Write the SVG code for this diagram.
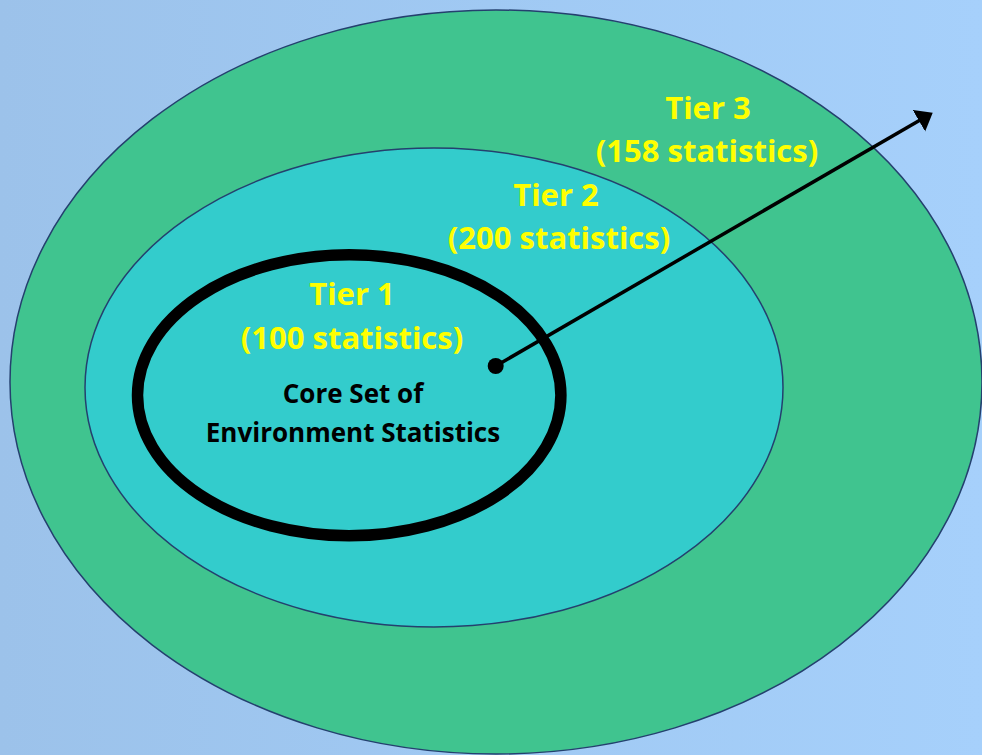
<svg xmlns="http://www.w3.org/2000/svg" width="982" height="755" viewBox="0 0 982 755">
  <defs>
    <linearGradient id="bg" x1="0" y1="0" x2="1" y2="0">
      <stop offset="0" stop-color="#9cc2ea"/>
      <stop offset="0.5" stop-color="#a0c9f3"/>
      <stop offset="1" stop-color="#a6d0fb"/>
    </linearGradient>
    <marker id="arrowhead" markerUnits="userSpaceOnUse" markerWidth="18" markerHeight="26" refX="8" refY="12.5" orient="auto">
      <path d="M0,0 L16,12.5 L0,25 Z" fill="#000"/>
    </marker>
    <style>
      .ring { stroke: #24406e; stroke-width: 1.5; }
      .tier { font-family: "Open Sans", "Noto Sans", "Liberation Sans", sans-serif; font-weight: 700; font-size: 31px; fill: #ffff00; text-anchor: middle; }
      .core { font-family: "Open Sans", "Noto Sans", "Liberation Sans", sans-serif; font-weight: 700; font-size: 26px; fill: #000; text-anchor: middle; }
    </style>
  </defs>
  <rect x="0" y="0" width="982" height="755" fill="url(#bg)"/>

  <g id="tier3">
    <ellipse cx="496" cy="382" rx="486" ry="372" fill="#40c48f" class="ring"/>
    <text class="tier" x="708" y="119">Tier 3</text>
    <text class="tier" x="707" y="162">(158 statistics)</text>
  </g>

  <g id="tier2">
    <ellipse cx="434" cy="387.5" rx="349" ry="239.5" fill="#33cccc" class="ring"/>
    <text class="tier" x="556" y="206">Tier 2</text>
    <text class="tier" x="559" y="249">(200 statistics)</text>
  </g>

  <g id="tier1">
    <ellipse cx="349.2" cy="395.3" rx="211.7" ry="140.5" fill="none" stroke="#000" stroke-width="11.5"/>
    <text class="tier" x="352" y="305">Tier 1</text>
    <text class="tier" x="352" y="349">(100 statistics)</text>
    <text class="core" x="353" y="403">Core Set of</text>
    <text class="core" x="353" y="442">Environment Statistics</text>
  </g>

  <g id="connectors">
    <circle cx="495.7" cy="366" r="8" fill="#000"/>
    <line x1="495.7" y1="366" x2="925.8" y2="116.7" stroke="#000" stroke-width="3.5" marker-end="url(#arrowhead)"/>
  </g>
</svg>
